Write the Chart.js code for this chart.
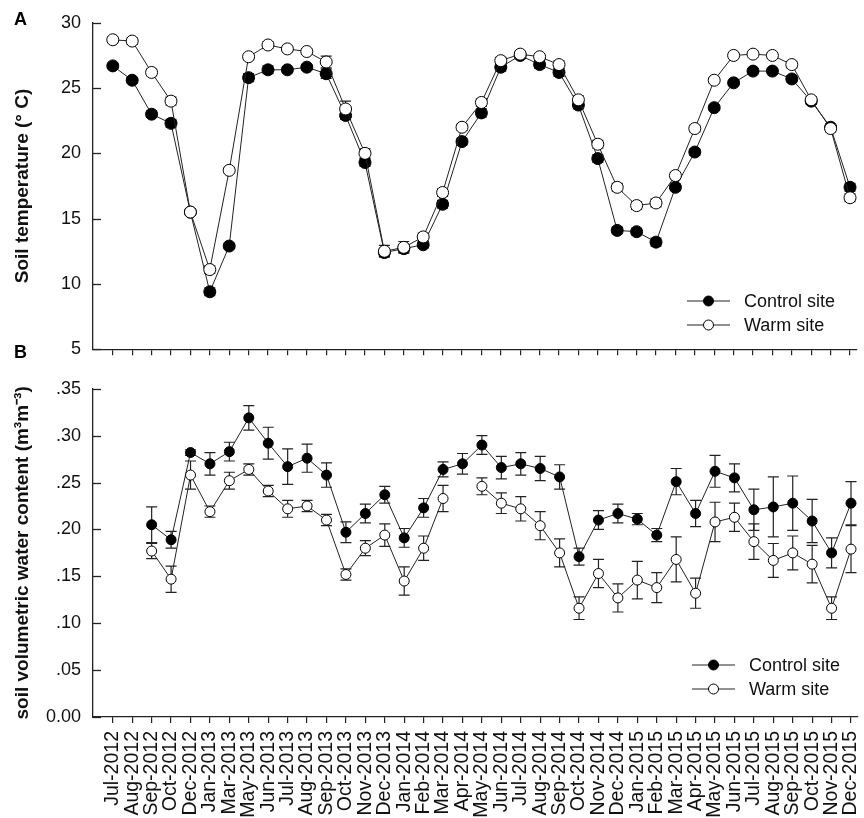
<!DOCTYPE html>
<html>
<head>
<meta charset="utf-8">
<title>Soil temperature and water content</title>
<script src="https://cdn.jsdelivr.net/npm/chart.js@4.4.1/dist/chart.umd.min.js"></script>
<style>
  html, body { margin: 0; padding: 0; background: #fff; }
  #wrap { position: relative; width: 864px; height: 818px; overflow: hidden; font-family: Arial, 'Liberation Sans', sans-serif; }
  #tempBox { position: absolute; left: 0; top: 0; width: 864px; height: 372px; }
  #waterBox { position: absolute; left: 0; top: 366px; width: 864px; height: 452px; }
  .panel-tag { position: absolute; left: 14px; font-weight: bold; font-size: 18px; color: #000; line-height: 18px; }
</style>
</head>
<body>
<div id="wrap">
  <div id="tempBox"><canvas id="tempChart"></canvas></div>
  <div id="waterBox"><canvas id="waterChart"></canvas></div>
  <div class="panel-tag" style="top: 10px;">A</div>
  <div class="panel-tag" style="top: 343px;">B</div>
</div>
<script>
// sampling months (irregular: some months were not sampled)
const months = ['Jul-2012','Aug-2012','Sep-2012','Oct-2012','Dec-2012','Jan-2013','Mar-2013','May-2013',
  'Jun-2013','Jul-2013','Aug-2013','Sep-2013','Oct-2013','Nov-2013','Dec-2013','Jan-2014','Feb-2014',
  'Mar-2014','Apr-2014','May-2014','Jun-2014','Jul-2014','Aug-2014','Sep-2014','Oct-2014','Nov-2014',
  'Dec-2014','Jan-2015','Feb-2015','Mar-2015','Apr-2015','May-2015','Jun-2015','Jul-2015','Aug-2015',
  'Sep-2015','Oct-2015','Nov-2015','Dec-2015'];

// soil temperature (°C), mean and SE
const tempControl = [26.7, 25.6, 23.0, 22.3, 15.5, 9.4, 12.9, 25.8, 26.4, 26.4, 26.6, 26.1, 22.9, 19.3, 12.4,
  12.7, 13.0, 16.1, 20.9, 23.1, 26.6, 27.5, 26.8, 26.2, 23.7, 19.6, 14.1, 14.0, 13.2, 17.4, 20.1, 23.5,
  25.4, 26.3, 26.3, 25.7, 24.0, 22.0, 17.4];
const tempWarm = [28.7, 28.6, 26.2, 24.0, 15.5, 11.1, 18.7, 27.4, 28.3, 28.0, 27.8, 27.0, 23.4, 20.0, 12.5,
  12.8, 13.6, 17.0, 22.0, 23.9, 27.1, 27.6, 27.4, 26.8, 24.1, 20.7, 17.4, 16.0, 16.2, 18.3, 21.9, 25.6,
  27.5, 27.6, 27.5, 26.8, 24.1, 21.9, 16.6];
const tempControlErr = [0.2, 0.2, 0.25, 0.3, 0.2, 0.3, 0.2, 0.3, 0.3, 0.2, 0.2, 0.35, 0.3, 0.3, 0.3, 0.3, 0.25,
  0.3, 0.25, 0.3, 0.3, 0.25, 0.3, 0.3, 0.3, 0.3, 0.25, 0.25, 0.3, 0.25, 0.25, 0.2, 0.2, 0.2, 0.2, 0.25, 0.25,
  0.25, 0.3];
const tempWarmErr = [0.2, 0.25, 0.25, 0.3, 0.25, 0.3, 0.2, 0.2, 0.25, 0.2, 0.2, 0.45, 0.6, 0.35, 0.45, 0.45, 0.3,
  0.3, 0.25, 0.3, 0.25, 0.2, 0.25, 0.3, 0.3, 0.3, 0.3, 0.3, 0.3, 0.25, 0.25, 0.2, 0.2, 0.2, 0.2, 0.25, 0.25,
  0.25, 0.3];

// soil volumetric water content (m3 m-3), mean and SE
const waterControl = [null, null, 0.205, 0.189, 0.282, 0.270, 0.283, 0.319, 0.292, 0.267, 0.276, 0.258, 0.197,
  0.217, 0.237, 0.191, 0.223, 0.264, 0.270, 0.290, 0.266, 0.270, 0.265, 0.256, 0.171, 0.210, 0.217, 0.211,
  0.194, 0.251, 0.217, 0.262, 0.255, 0.221, 0.224, 0.228, 0.209, 0.175, 0.228];
const waterWarm = [null, null, 0.177, 0.147, 0.258, 0.219, 0.252, 0.264, 0.241, 0.222, 0.225, 0.210, 0.152,
  0.180, 0.194, 0.145, 0.180, 0.233, null, 0.246, 0.228, 0.222, 0.204, 0.175, 0.116, 0.153, 0.127, 0.146,
  0.138, 0.168, 0.132, 0.208, 0.213, 0.187, 0.167, 0.175, 0.163, 0.116, 0.179];
const waterControlErr = [null, null, 0.019, 0.009, 0.003, 0.012, 0.010, 0.013, 0.017, 0.019, 0.015, 0.013, 0.011,
  0.010, 0.009, 0.010, 0.010, 0.008, 0.011, 0.010, 0.012, 0.012, 0.013, 0.013, 0.009, 0.010, 0.010, 0.006,
  0.007, 0.014, 0.014, 0.017, 0.015, 0.022, 0.032, 0.029, 0.023, 0.016, 0.023];
const waterWarmErr = [null, null, 0.008, 0.014, 0.015, 0.006, 0.009, 0.006, 0.006, 0.009, 0.006, 0.006, 0.006,
  0.008, 0.012, 0.015, 0.013, 0.014, null, 0.009, 0.011, 0.013, 0.015, 0.015, 0.012, 0.015, 0.015, 0.020,
  0.016, 0.024, 0.016, 0.021, 0.015, 0.019, 0.018, 0.018, 0.020, 0.012, 0.025];

const FONT = "Arial, 'Liberation Sans', sans-serif";
const INK = '#222';

// turn a value array into {x, y} points on the month index
const toPoints = arr => arr.map((v, i) => ({ x: i, y: v }));

// vertical SE bars with caps, drawn underneath lines and markers
const errorBars = {
  id: 'errorBars',
  beforeDatasetsDraw(chart) {
    const { ctx } = chart;
    const xs = chart.scales.x, ys = chart.scales.y;
    ctx.save();
    ctx.strokeStyle = INK;
    ctx.lineWidth = 1.2;
    chart.data.datasets.forEach(ds => {
      ds.data.forEach((pt, i) => {
        const e = ds.errors[i];
        if (pt.y == null || !e) return;
        const px = xs.getPixelForValue(pt.x);
        const top = ys.getPixelForValue(pt.y + e);
        const bot = ys.getPixelForValue(pt.y - e);
        ctx.beginPath();
        ctx.moveTo(px, top); ctx.lineTo(px, bot);
        ctx.moveTo(px - 5.5, top); ctx.lineTo(px + 5.5, top);
        ctx.moveTo(px - 5.5, bot); ctx.lineTo(px + 5.5, bot);
        ctx.stroke();
      });
    });
    ctx.restore();
  }
};

// y ticks point into the plot area
const innerTicks = {
  id: 'innerTicks',
  afterDraw(chart) {
    const { ctx, chartArea } = chart;
    const ys = chart.scales.y;
    ctx.save();
    ctx.strokeStyle = INK;
    ctx.lineWidth = 1.3;
    ys.ticks.forEach(t => {
      const py = Math.round(ys.getPixelForValue(t.value)) + 0.5;
      ctx.beginPath();
      ctx.moveTo(chartArea.left, py);
      ctx.lineTo(chartArea.left + 8, py);
      ctx.stroke();
    });
    ctx.restore();
  }
};

// line-and-marker legend in the lower right corner
const siteLegend = {
  id: 'siteLegend',
  afterDraw(chart, args, opts) {
    const { ctx } = chart;
    ctx.save();
    chart.data.datasets.forEach((ds, i) => {
      const y = opts.top + i * opts.rowGap;
      const x0 = opts.left;
      ctx.strokeStyle = INK;
      ctx.lineWidth = 1;
      ctx.beginPath();
      ctx.moveTo(x0, y); ctx.lineTo(x0 + 43, y);
      ctx.stroke();
      ctx.beginPath();
      ctx.arc(x0 + 21.5, y, 5, 0, Math.PI * 2);
      ctx.fillStyle = ds.pointBackgroundColor;
      ctx.fill();
      ctx.strokeStyle = '#000';
      ctx.stroke();
      ctx.fillStyle = '#111';
      ctx.font = '18px ' + FONT;
      ctx.textBaseline = 'middle';
      ctx.fillText(ds.label, x0 + 57, y + 1);
    });
    ctx.restore();
  }
};

function siteDatasets(control, warm, controlErr, warmErr, radius) {
  return [
    {
      label: 'Control site', data: toPoints(control), errors: controlErr, order: 1,
      borderColor: INK, borderWidth: 1, pointRadius: radius, pointBorderWidth: 1,
      pointBackgroundColor: '#000', pointBorderColor: '#000', spanGaps: false
    },
    {
      label: 'Warm site', data: toPoints(warm), errors: warmErr, order: 0,
      borderColor: INK, borderWidth: 1, pointRadius: radius, pointBorderWidth: 1,
      pointBackgroundColor: '#fff', pointBorderColor: '#000', spanGaps: false
    }
  ];
}

function monthAxis(showLabels, axisHeight) {
  return {
    type: 'linear',
    min: -1.02,
    max: 38.36,
    afterBuildTicks: scale => { scale.ticks = months.map((m, i) => ({ value: i })); },
    afterFit: scale => { scale.height = axisHeight; scale.paddingLeft = 0; scale.paddingRight = 0; },
    grid: { display: true, drawOnChartArea: false, drawTicks: true, tickLength: 6, color: INK, lineWidth: 1.2 },
    border: { display: true, color: INK, width: 1.3 },
    ticks: {
      display: showLabels,
      autoSkip: false,
      minRotation: 90,
      maxRotation: 90,
      padding: 8,
      color: '#111',
      font: { family: FONT, size: 19.5 },
      callback: (v, i) => months[i]
    }
  };
}

function valueAxis(min, max, step, title, fmt) {
  return {
    min, max,
    ticks: {
      stepSize: step, padding: 12, color: '#111',
      font: { family: FONT, size: 18 },
      callback: fmt
    },
    afterFit: scale => { scale.width = 93; },
    grid: { display: false, drawTicks: false },
    border: { display: true, color: INK, width: 1.3 },
    title: {
      display: true, text: title, color: '#111',
      font: { family: FONT, size: 19, weight: 'bold' },
      padding: { top: 11, bottom: 0 }
    }
  };
}

const baseOptions = {
  responsive: true,
  maintainAspectRatio: false,
  animation: false,
  events: []
};

new Chart(document.getElementById('tempChart'), {
  type: 'line',
  data: { datasets: siteDatasets(tempControl, tempWarm, tempControlErr, tempWarmErr, 6) },
  options: {
    ...baseOptions,
    layout: { padding: { top: 21, left: 0, right: 0, bottom: 0 } },
    scales: {
      x: monthAxis(false, 16),
      y: valueAxis(5, 30, 5, 'Soil temperature (° C)', v => String(v))
    },
    plugins: {
      legend: { display: false },
      tooltip: { enabled: false },
      siteLegend: { left: 687, top: 301, rowGap: 24 }
    }
  },
  plugins: [errorBars, innerTicks, siteLegend]
});

new Chart(document.getElementById('waterChart'), {
  type: 'line',
  data: { datasets: siteDatasets(waterControl, waterWarm, waterControlErr, waterWarmErr, 5) },
  options: {
    ...baseOptions,
    layout: { padding: { top: 17, left: 0, right: 0, bottom: 0 } },
    scales: {
      x: monthAxis(true, 101),
      y: valueAxis(0, 0.35, 0.05, 'soil volumetric water content (m³m⁻³)',
        v => (Math.abs(v) < 1e-9 ? '0.00' : v.toFixed(2).replace(/^0/, '')))
    },
    plugins: {
      legend: { display: false },
      tooltip: { enabled: false },
      siteLegend: { left: 692, top: 299, rowGap: 24 }
    }
  },
  plugins: [errorBars, innerTicks, siteLegend]
});
</script>
</body>
</html>
